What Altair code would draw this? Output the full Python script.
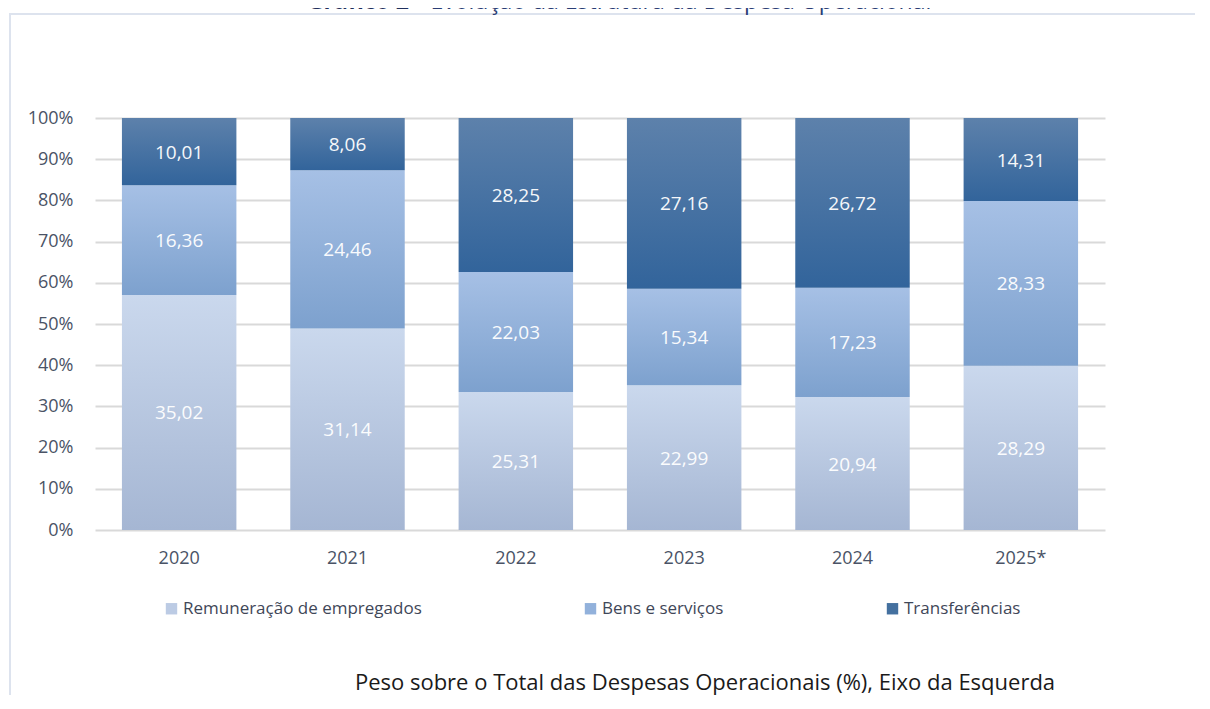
import altair as alt
import pandas as pd

years = ["2020", "2021", "2022", "2023", "2024", "2025*"]
categories = ["Remuneração de empregados", "Bens e serviços", "Transferências"]
remuneracao = [35.02, 31.14, 25.31, 22.99, 20.94, 28.29]
bens = [16.36, 24.46, 22.03, 15.34, 17.23, 28.33]
transferencias = [10.01, 8.06, 28.25, 27.16, 26.72, 14.31]
y_ticks = [0, 0.1, 0.2, 0.3, 0.4, 0.5, 0.6, 0.7, 0.8, 0.9, 1.0]
title_bold = "Gráfico 2"
title_rest = "- Evolução da Estrutura da Despesa Operacional"
caption = "Peso sobre o Total das Despesas Operacionais (%), Eixo da Esquerda"

series = [remuneracao, bens, transferencias]
rows = []
for ci, (cat, vals) in enumerate(zip(categories, series)):
    for y, v in zip(years, vals):
        rows.append({"year": y, "cat": cat, "ord": ci, "value": v,
                     "label": f"{v:.2f}".replace(".", ",")})
df = pd.DataFrame(rows)

FONT = "Open Sans"

def grad(top, bottom):
    return alt.Gradient(
        gradient="linear",
        stops=[alt.GradientStop(color=top, offset=0),
               alt.GradientStop(color=bottom, offset=1)],
        x1=0, x2=0, y1=0, y2=1,
    )

gradients = [
    grad("#cad8ed", "#a5b6d3"),
    grad("#a6c0e5", "#7da1ce"),
    grad("#5d81ab", "#32649b"),
]
legend_colors = ["#bccbe4", "#92b1db", "#44709f"]

x_enc = alt.X(
    "year:N", sort=years, title=None,
    scale=alt.Scale(paddingInner=0.32, paddingOuter=0.16),
    axis=alt.Axis(labelFontSize=18, labelColor="#4a5366", labelFont=FONT,
                  labelPadding=19, ticks=False, domain=False, labelAngle=0),
)
y_axis = alt.Axis(values=y_ticks, format=".0%", labelFontSize=18,
                  labelColor="#4a5366", labelFont=FONT, labelPadding=22,
                  ticks=False, domain=False, grid=True, gridColor="#d9d9d9",
                  gridWidth=2)

base = alt.Chart(df).transform_stack(
    stack="value", groupby=["year"], as_=["y0", "y1"], offset="normalize",
    sort=[alt.SortField("ord", order="ascending")],
).transform_calculate(mid="(datum.y0 + datum.y1) / 2")

layers = []
for i, cat in enumerate(categories):
    layers.append(
        base.transform_filter(alt.datum.cat == cat)
        .mark_bar(fill=gradients[i], strokeWidth=0)
        .encode(
            x=x_enc,
            y=alt.Y("y0:Q", title=None, scale=alt.Scale(domain=[0, 1]), axis=y_axis),
            y2="y1:Q",
        )
    )

labels = base.mark_text(fontSize=19, font=FONT, color="white", opacity=0.95, dy=1).encode(
    x=x_enc,
    y=alt.Y("mid:Q", title=None, scale=alt.Scale(domain=[0, 1]), axis=y_axis),
    text="label:N",
)

legend_layer = base.mark_square(size=100, opacity=0).encode(
    x=x_enc,
    y=alt.Y("mid:Q", title=None, scale=alt.Scale(domain=[0, 1]), axis=y_axis),
    color=alt.Color(
        "cat:N",
        scale=alt.Scale(domain=categories, range=legend_colors),
        legend=alt.Legend(
            title=None, orient="none", legendX=68, legendY=482,
            direction="horizontal", columnPadding=160, symbolType="square",
            symbolSize=130, symbolOpacity=1, symbolStrokeWidth=0,
            labelFontSize=17, labelFont=FONT, labelColor="#3f4758",
            labelOffset=3, labelLimit=0,
        ),
    ),
)

one = pd.DataFrame({"t": [0]})
left_border = alt.Chart(one).mark_rule(color="#dde3ee", strokeWidth=2).encode(
    x=alt.value(-85), y=alt.value(-104), y2=alt.value(600))
top_border = alt.Chart(one).mark_rule(color="#dde3ee", strokeWidth=2).encode(
    y=alt.value(-104), x=alt.value(-86), x2=alt.value(1120))

title_b = alt.Chart(pd.DataFrame({"t": [title_bold]})).mark_text(
    fontSize=23, font=FONT, fontWeight="bold", color="#1f2f5c",
    align="right", baseline="alphabetic").encode(
    text="t:N", x=alt.value(314), y=alt.value(-109))
title_r = alt.Chart(pd.DataFrame({"t": [title_rest]})).mark_text(
    fontSize=23, font=FONT, color="#2a3d75",
    align="left", baseline="alphabetic").encode(
    text="t:N", x=alt.value(322), y=alt.value(-109))

cap = alt.Chart(pd.DataFrame({"t": [caption]})).mark_text(
    fontSize=22, font=FONT, color="#1a1a1a", align="center",
    baseline="middle").encode(text="t:N", x=alt.value(610), y=alt.value(565))

chart = alt.layer(
    left_border, top_border, title_b, title_r, *layers, labels, legend_layer, cap
).properties(
    width=1010, height=412,
    autosize=alt.AutoSizeParams(type="none"),
    padding={"left": 87, "top": 110, "right": 90, "bottom": 165},
).configure_view(stroke=None)

chart.save("out.html", embed_options={"renderer": "svg", "actions": False})
